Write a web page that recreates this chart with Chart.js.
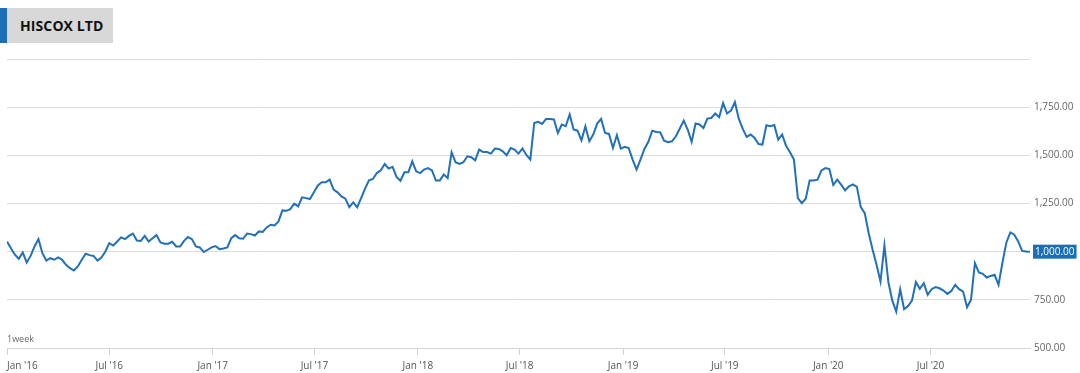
<!DOCTYPE html>
<html>
<head>
<meta charset="utf-8">
<script src="https://cdn.jsdelivr.net/npm/chart.js@4.4.1/dist/chart.umd.min.js"></script>
<style>
  html, body { margin: 0; padding: 0; background: #fff; }
  #wrap { position: relative; width: 1080px; height: 373px; overflow: hidden; }
  #title {
    position: absolute; left: 0; top: 8px; width: 106px; height: 35px;
    background: #d8d8d8; border-left: 7px solid #1c6eb4; box-sizing: content-box;
    font-family: "Open Sans", sans-serif; font-weight: 700; font-size: 14px; color: #111;
    line-height: 35px; padding-left: 0; text-indent: 13px; letter-spacing: 0.1px;
  }
  canvas { position: absolute; left: 0; top: 0; }
</style>
</head>
<body>
<div id="wrap">
  <canvas id="c" width="1080" height="373"></canvas>
  <div id="title">HISCOX LTD</div>
</div>
<script>
// ---- data (weekly closes, GBp) ----
const seriesName = "HISCOX LTD";
const firstDate = "2016-01-01";
const intervalLabel = "1week";
const prices = [
  1053, 1018, 984, 963, 996, 944, 978, 1027, 1065, 992, 954, 966, 958, 970, 958, 932, 914, 902, 923, 958,
  989, 982, 978, 954, 970, 1001, 1044, 1032, 1053, 1074, 1065, 1082, 1094, 1058, 1056, 1082, 1053, 1070, 1086, 1048,
  1041, 1041, 1051, 1027, 1027, 1056, 1076, 1065, 1027, 1022, 998, 1010, 1022, 1029, 1013, 1016, 1022, 1070, 1086, 1070,
  1067, 1094, 1091, 1084, 1105, 1102, 1126, 1140,
  1136, 1157, 1214, 1212, 1221, 1249, 1235, 1282, 1278, 1273, 1308, 1344, 1360, 1360, 1374, 1322, 1308, 1287, 1275, 1231,
  1256, 1230, 1278, 1327, 1370, 1377, 1408, 1422, 1455, 1431, 1440, 1388, 1368, 1412, 1412, 1469, 1417, 1408, 1426, 1434,
  1422, 1370, 1370, 1400, 1382, 1516, 1464, 1455, 1464, 1495, 1490, 1474, 1530, 1517, 1517, 1509, 1535, 1533, 1521, 1500,
  1538, 1530, 1509, 1535, 1502, 1478,
  1668, 1674, 1663, 1689, 1689, 1686, 1616, 1660, 1651, 1712, 1634, 1628, 1578, 1651, 1573, 1608, 1665, 1689, 1616, 1611,
  1538, 1604, 1535, 1544, 1538, 1478, 1426, 1478, 1533, 1570, 1628, 1621, 1620, 1576, 1568, 1573, 1599, 1639, 1680, 1634,
  1570, 1665, 1660, 1642, 1691, 1694, 1717, 1698, 1772, 1717, 1732, 1776, 1689, 1637, 1596, 1608, 1590, 1559, 1556, 1656,
  1651, 1657, 1582,
  1608, 1550, 1516, 1478, 1278, 1252, 1275, 1370, 1370, 1374, 1422, 1434, 1429, 1346, 1374, 1348, 1318, 1339, 1349, 1336,
  1231, 1200, 1096, 1010, 932, 845, 1032, 842, 746, 689, 805, 701, 718, 746, 842, 807, 836, 776, 805, 816,
  810, 798, 781, 796, 828, 805, 793, 712, 750, 940, 892, 885, 866, 874, 880, 828, 944, 1048, 1100, 1088,
  1053, 1004, 1001, 1000
];
const tickDates  = ["2016-01-01", "2016-07-01", "2017-01-01", "2017-07-01", "2018-01-01", "2018-07-01", "2019-01-01", "2019-07-01", "2020-01-01", "2020-07-01"];
const tickLabels = ["Jan '16", "Jul '16", "Jan '17", "Jul '17", "Jan '18", "Jul '18", "Jan '19", "Jul '19", "Jan '20", "Jul '20"];
const yMin = 500, yMax = 2000, yStep = 250;

// ---- build ----
const WEEK = 7 * 24 * 3600 * 1000;
const t0 = Date.parse(firstDate);
const points = prices.map((v, i) => ({ x: i, y: v }));
const lastIndex = prices.length - 1;
const tickPos = tickDates.map(d => (Date.parse(d) - t0) / WEEK);
const fmt = v => v.toLocaleString('en-US', { minimumFractionDigits: 2, maximumFractionDigits: 2 });
const LINE = '#2270b5';
const FONT = '"Open Sans", sans-serif';

const overlay = {
  id: 'overlay',
  afterDraw(chart) {
    const { ctx, chartArea, scales } = chart;
    const last = prices[lastIndex];
    const y = scales.y.getPixelForValue(last);
    const txt = fmt(last);
    ctx.save();
    ctx.font = '10px ' + FONT;
    const w = ctx.measureText(txt).width + 4;
    ctx.fillStyle = '#1c6eb4';
    ctx.fillRect(chartArea.right + 3, y - 7, w, 14);
    ctx.fillStyle = '#fff';
    ctx.textBaseline = 'middle';
    ctx.textAlign = 'left';
    ctx.fillText(txt, chartArea.right + 5, y + 0.5);
    ctx.fillStyle = '#666';
    ctx.font = '9px ' + FONT;
    ctx.textBaseline = 'alphabetic';
    ctx.fillText(intervalLabel, chartArea.left, chartArea.bottom - 6);
    ctx.restore();
  }
};

new Chart(document.getElementById('c'), {
  type: 'line',
  data: {
    datasets: [{
      label: seriesName,
      data: points,
      borderColor: LINE,
      borderWidth: 2,
      pointRadius: 0,
      tension: 0,
      fill: false
    }]
  },
  options: {
    responsive: false,
    animation: false,
    events: [],
    layout: { padding: { left: 7, top: 59, right: 0, bottom: 0 } },
    plugins: { legend: { display: false }, tooltip: { enabled: false } },
    scales: {
      x: {
        type: 'linear',
        min: 0,
        max: lastIndex,
        afterBuildTicks(scale) {
          scale.ticks = tickPos.map(v => ({ value: v })).concat([{ value: lastIndex }]);
        },
        afterFit(scale) { scale.height = 25; scale.paddingLeft = 0; scale.paddingRight = 0; },
        grid: {
          drawOnChartArea: false,
          drawTicks: true,
          tickLength: 7,
          tickColor: ctx => (ctx.index >= tickLabels.length ? 'rgba(0,0,0,0)' : '#cfcfcf')
        },
        border: { display: true, color: '#d6d6d6' },
        ticks: {
          autoSkip: false,
          maxRotation: 0,
          align: 'inner',
          padding: 5,
          color: '#555',
          font: { family: FONT, size: 10 },
          callback: (v, i) => (i < tickLabels.length ? tickLabels[i] : '')
        }
      },
      y: {
        position: 'right',
        min: yMin,
        max: yMax,
        afterFit(scale) { scale.width = 50; },
        grid: { color: '#dcdcdc', drawTicks: false },
        border: { display: false },
        ticks: {
          stepSize: yStep,
          padding: 4,
          color: '#666',
          font: { family: FONT, size: 10 },
          callback: v => (v === yMax ? '' : fmt(v))
        }
      }
    }
  },
  plugins: [overlay]
});
</script>
</body>
</html>
